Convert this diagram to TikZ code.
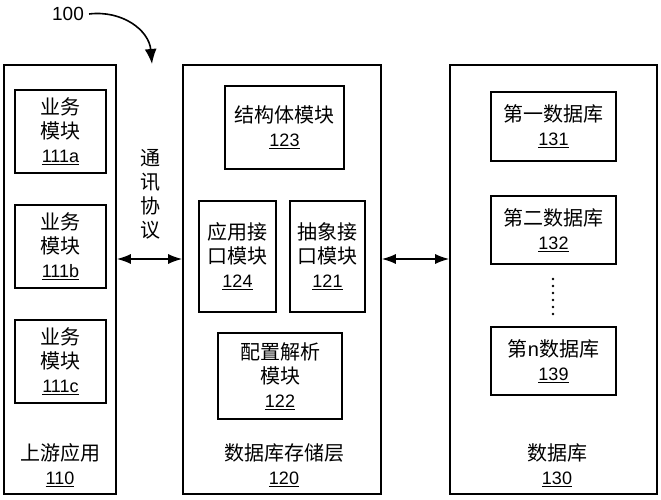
\documentclass[tikz,border=0pt]{standalone}
\usepackage{fontspec}
\setmainfont{Liberation Sans}
\newfontfamily\cjk{Noto Sans CJK SC}
\usetikzlibrary{arrows.meta}
\newcommand{\hao}[1]{{\rmfamily\fontsize{18}{24}\selectfont\underline{#1}}}
\tikzset{
  box/.style={draw, line width=1.6pt, inner sep=0pt, align=center,
    font=\cjk\fontsize{20}{24}\selectfont},
  txt/.style={inner sep=0pt, align=center, font=\cjk\fontsize{20}{24}\selectfont},
  link/.style={{Latex[length=14pt,width=10pt]}-{Latex[length=14pt,width=10pt]}, line width=1.5pt}
}
\begin{document}
\begin{tikzpicture}[x=1pt,y=-1pt]
    \useasboundingbox (0,0) rectangle (661,500);
    % outer layers
    \node[box, minimum width=112pt, minimum height=429pt] (app) at (60,279.5) {};
    \node[box, minimum width=198pt, minimum height=429pt] (store) at (282,279.5) {};
    \node[box, minimum width=207pt, minimum height=429pt] (db) at (553.5,279.5) {};
    \node[txt] (appname) at (60,465) {上游应用\\\hao{110}};
    \node[txt] (storename) at (284,465) {数据库存储层\\\hao{120}};
    \node[txt] (dbname) at (557,465) {数据库\\\hao{130}};
    % business modules
    \foreach \n/\y in {a/131.5,b/246.5,c/361.5}{
        \node[box, minimum width=91pt, minimum height=83pt] (mod\n) at (60.5,\y) {业务\\模块\\\hao{111\n}};
    }
    % storage layer modules
    \node[box, minimum width=119pt, minimum height=83pt] (struct) at (284.5,127.5) {结构体模块\\\hao{123}};
    \node[box, minimum width=77pt, minimum height=111pt] (appif) at (237.5,256.5) {应用接\\口模块\\\hao{124}};
    \node[box, minimum width=75pt, minimum height=111pt] (absif) at (327.5,256.5) {抽象接\\口模块\\\hao{121}};
    \node[box, minimum width=124pt, minimum height=86pt] (conf) at (280,376) {配置解析\\模块\\\hao{122}};
    % databases
    \node[box, minimum width=125pt, minimum height=69pt] (db1) at (553.5,126.5) {第一数据库\\\hao{131}};
    \node[box, minimum width=125pt, minimum height=68pt] (db2) at (553.5,230) {第二数据库\\\hao{132}};
    \node[box, minimum width=125pt, minimum height=68pt] (dbn) at (553.5,361) {第{\rmfamily n}数据库\\\hao{139}};
    \foreach \y in {279,286,...,314}{
        \fill (553,\y) circle (1.4pt);
    }
    % connectors
    \node[txt] (proto) at (150,194) {通\\讯\\协\\议};
    \coordinate (row) at (0,259);
    \draw[link] (app.east |- row) -- (store.west |- row);
    \draw[link] (store.east |- row) -- (db.west |- row);
    % reference numeral
    \node[inner sep=0pt, font=\fontsize{19}{22}\selectfont] (fig) at (68,14) {100};
    \coordinate (figtip) at (152,64);
    \draw[-{Latex[length=15pt,width=12pt]}, line width=1.6pt] ([xshift=5pt]fig.east) .. controls (122,10) and (149,30) .. (figtip);
\end{tikzpicture}
\end{document}
